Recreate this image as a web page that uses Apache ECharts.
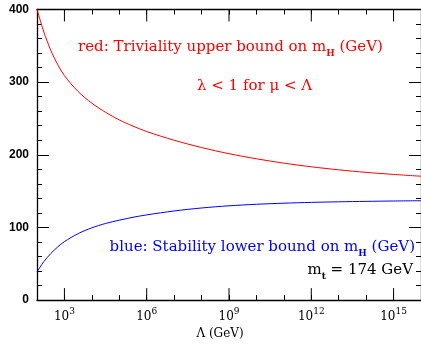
<!DOCTYPE html>
<html>
<head>
<meta charset="utf-8">
<script src="https://cdn.jsdelivr.net/npm/echarts@6/dist/echarts.min.js"></script>
<style>html,body{margin:0;padding:0;background:#fff}#c{width:421px;height:345px}</style>
</head>
<body>
<div id="c"></div>
<script>
// log10(Lambda / GeV)
const logLambda = [2, 2.25, 2.5, 2.75, 3, 3.5, 4, 4.5, 5, 5.5, 6, 7, 8, 9, 10, 11, 12, 13, 14, 15, 16];
// Triviality upper bound on m_H (GeV)
const upperBound = [400, 369, 344, 324.5, 309, 287, 271, 258.5, 248, 239.5, 232, 220, 210, 201.5, 194.5, 188.5, 183.5, 179.3, 175.8, 173, 170.5];
// Stability lower bound on m_H (GeV)
const lowerBound = [39, 53, 64, 73, 80.5, 91.5, 99.5, 105.5, 110, 114, 117.3, 122.7, 126.8, 129.8, 131.9, 133.4, 134.5, 135.3, 135.9, 136.4, 136.8];
// labelled decades on the Lambda axis
const xMajorExp = [3, 6, 9, 12, 15];
const yTicks = [0, 100, 200, 300, 400];

const chart = echarts.init(document.getElementById('c'));
const serif = 'DejaVu Serif';

function xAx(pos, labels) {
  const ax = {
    type: 'value', position: pos, min: 2, max: 16, interval: 1,
    axisLine: {show: true, onZero: false, lineStyle: {color: '#000', width: 1.3}},
    axisTick: {show: true, inside: true, length: 5, lineStyle: {color: '#000', width: 1}},
    axisLabel: {show: false},
    splitLine: {show: false}
  };
  if (labels) {
    ax.axisLabel = {
      show: true, margin: 7, showMinLabel: false, showMaxLabel: false,
      formatter: v => xMajorExp.indexOf(v) >= 0 ? '{b|10}{s|' + v + '}' : '',
      rich: {
        b: {fontFamily: serif, fontSize: 12, color: '#000', lineHeight: 16, verticalAlign: 'bottom'},
        s: {fontFamily: serif, fontSize: 9, color: '#000', verticalAlign: 'top', lineHeight: 16}
      }
    };
    ax.name = 'Λ (GeV)';
    ax.nameLocation = 'middle';
    ax.nameGap = 24;
    ax.nameTextStyle = {fontFamily: serif, fontSize: 12, color: '#000', padding: [0, 18, 0, 0]};
  }
  return ax;
}

function yAx(pos, labels) {
  return {
    type: 'value', position: pos, min: 0, max: 400, interval: 100,
    axisLine: {show: true, onZero: false, lineStyle: {color: '#000', width: 1.3}},
    axisTick: {show: true, inside: true, length: 12, lineStyle: {color: '#000', width: 1}},
    minorTick: {show: true, splitNumber: 5, length: 5, lineStyle: {color: '#000', width: 1}},
    axisLabel: labels ? {show: true, margin: 8, fontFamily: 'Liberation Sans', fontWeight: 'bold', fontSize: 12, color: '#000',
      formatter: v => yTicks.indexOf(v) >= 0 ? String(v) : ''} : {show: false},
    splitLine: {show: false}
  };
}

// long (major) ticks at labelled decades, placed through the axis scale
function majorTicks(params, api) {
  const v = api.value(0);
  const b = api.coord([v, 0]);
  const t = api.coord([v, 400]);
  return {type: 'group', children: [
    {type: 'line', shape: {x1: b[0], y1: b[1], x2: b[0], y2: b[1] - 12}, style: {stroke: '#000', lineWidth: 1}},
    {type: 'line', shape: {x1: t[0], y1: t[1], x2: t[0], y2: t[1] + 12}, style: {stroke: '#000', lineWidth: 1}}
  ]};
}

const txt = {fontFamily: serif, fontSize: 15};
function sub(color) {
  return {fontFamily: serif, fontSize: 9, fontWeight: 'bold', fill: color, verticalAlign: 'bottom', lineHeight: 21};
}
function main(color) {
  return Object.assign({fill: color, verticalAlign: 'middle', lineHeight: 21}, txt);
}

chart.setOption({
  animation: false,
  grid: {left: 37, right: -1, top: 9.5, bottom: 39.5, containLabel: false},
  xAxis: [xAx('bottom', true), xAx('top', false)],
  yAxis: [yAx('left', true), yAx('right', false)],
  series: [
    {type: 'line', xAxisIndex: 0, yAxisIndex: 0, data: logLambda.map((x, i) => [x, upperBound[i]]),
      smooth: 0.3, showSymbol: false, lineStyle: {color: '#ff0000', width: 1}, clip: true},
    {type: 'line', xAxisIndex: 0, yAxisIndex: 0, data: logLambda.map((x, i) => [x, lowerBound[i]]),
      smooth: 0.3, showSymbol: false, lineStyle: {color: '#0000ff', width: 1}, clip: true},
    {type: 'custom', xAxisIndex: 0, yAxisIndex: 0, data: xMajorExp.map(v => [v]), renderItem: majorTicks,
      silent: true, clip: false}
  ],
  graphic: [
    {type: 'text', left: 78, top: 40, style: {
      text: '{t|red: Triviality upper bound on m}{sub|H}{t| (GeV)}',
      rich: {t: main('#ff0000'), sub: sub('#ff0000')}}},
    {type: 'text', left: 197, top: 79, style: {text: 'λ < 1 for μ < Λ', fill: '#ff0000', fontFamily: serif, fontSize: 15}},
    {type: 'text', right: 6, top: 240, style: {
      text: '{t|blue: Stability lower bound on m}{sub|H}{t| (GeV)}',
      rich: {t: main('#0000ff'), sub: sub('#0000ff')}}},
    {type: 'text', right: 8, top: 263, style: {
      text: '{t|m}{sub|t}{t| = 174 GeV}',
      rich: {t: main('#000'), sub: sub('#000')}}}
  ]
});
</script>
</body>
</html>
